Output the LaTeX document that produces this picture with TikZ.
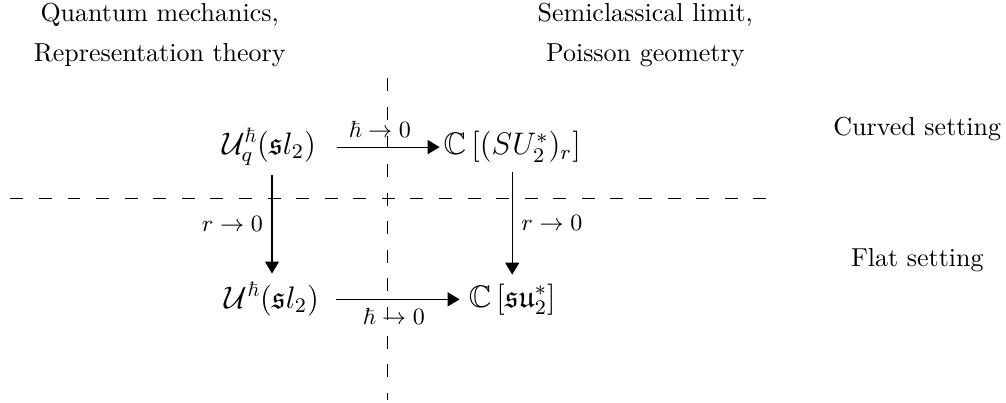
\documentclass[tikz,border=0pt]{standalone}
\usepackage{amsmath,amssymb}
\usetikzlibrary{arrows.meta}
\tikzset{
  obj/.style={font=\large},
  lbl/.style={font=\small},
  arrow/.style={-{Triangle[length=4.6pt,width=5.4pt]}},
  sep/.style={dash pattern=on 5pt off 6pt}
}

\begin{document}
\begin{tikzpicture}

  \useasboundingbox (0,0) rectangle (13.61,-5.45);

  \node[align=center] (QM) at (2.16,-0.48) {Quantum mechanics,\\[3.4pt] Representation theory};
  \node[align=center] (SC) at (8.73,-0.48) {Semiclassical limit,\\[3.4pt] Poisson geometry};

  \node[obj] (Uq) at (3.64,-1.99) {$\mathcal{U}_q^{\hbar}(\mathfrak{s}l_2)$};
  \node[obj] (Cq) at (6.93,-1.99) {$\mathbb{C}\left[(SU_2^*)_r\right]$};
  \node[obj] (Uh) at (3.68,-4.05) {$\mathcal{U}^{\hbar}(\mathfrak{s}l_2)$};
  \node[obj] (Ch) at (6.93,-4.05) {$\mathbb{C}\left[\mathfrak{su}_2^*\right]$};

  \node (curved) at (12.41,-1.74) {Curved setting};
  \node (flat)   at (12.41,-3.52) {Flat setting};

  \coordinate (vtop) at (5.24,-1.06);
  \coordinate (vbot) at (5.24,-5.41);
  \coordinate (hl)   at (0.14,-2.69);
  \coordinate (hr)   at (10.55,-2.69);
  \draw[sep] (vtop) -- (vbot);
  \draw[sep] (hl) -- (hr);

  \draw[arrow,shorten <=4.5pt,shorten >=-2pt] (Uq) -- node[lbl,above] {$\hbar\to 0$} (Cq);
  \draw[arrow,shorten <=3pt] (Uh) -- node[lbl,below] {$\hbar\to 0$} (Ch);
  \draw[arrow] (Uq.south -| Uh.north) -- node[lbl,left] {$r\to 0$} (Uh);
  \draw[arrow] (Cq) -- node[lbl,right] {$r\to 0$} (Ch);

\end{tikzpicture}
\end{document}
